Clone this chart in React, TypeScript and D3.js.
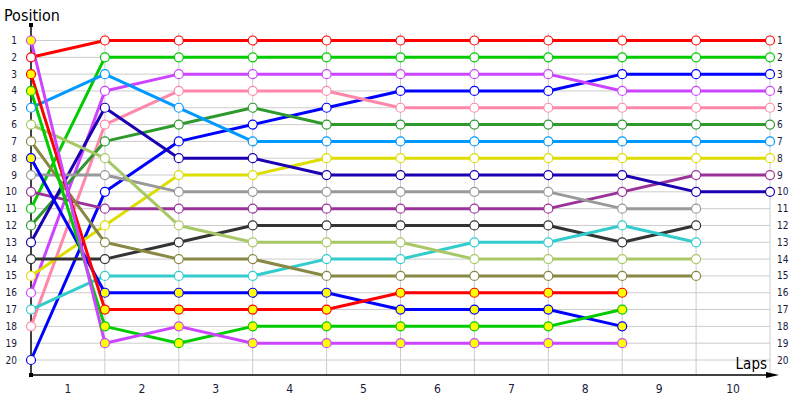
import React from "react";
import * as d3 from "d3";

const lapLabels = ["1", "2", "3", "4", "5", "6", "7", "8", "9", "10"];
const positionLabels = d3.range(1, 21).map(String);

// positions: index 0 = start grid, then after each lap
const redPos = [2, 1, 1, 1, 1, 1, 1, 1, 1, 1, 1];
const greenPos = [11, 2, 2, 2, 2, 2, 2, 2, 2, 2, 2];
const bluePos = [20, 10, 7, 6, 5, 4, 4, 4, 3, 3, 3];
const violetPos = [16, 4, 3, 3, 3, 3, 3, 3, 4, 4, 4];
const pinkPos = [18, 6, 4, 4, 4, 5, 5, 5, 5, 5, 5];
const darkGreenPos = [12, 7, 6, 5, 6, 6, 6, 6, 6, 6, 6];
const lightBluePos = [5, 3, 5, 7, 7, 7, 7, 7, 7, 7, 7];
const yellowPos = [15, 12, 9, 9, 8, 8, 8, 8, 8, 8, 8];
const purplePos = [10, 11, 11, 11, 11, 11, 11, 11, 10, 9, 9];
const navyPos = [13, 5, 8, 8, 9, 9, 9, 9, 9, 10, 10];
const grayPos = [9, 9, 10, 10, 10, 10, 10, 10, 11, 11];
const blackPos = [14, 14, 13, 12, 12, 12, 12, 12, 13, 12];
const cyanPos = [17, 15, 15, 15, 14, 14, 13, 13, 12, 13];
const lightGreenPos = [6, 8, 12, 13, 13, 13, 14, 14, 14, 14];
const olivePos = [7, 13, 14, 14, 15, 15, 15, 15, 15, 15];
const lappedBluePos = [8, 16, 16, 16, 16, 17, 17, 17, 18];
const lappedRedPos = [3, 17, 17, 17, 17, 16, 16, 16, 16];
const lappedGreenPos = [4, 18, 19, 18, 18, 18, 18, 18, 17];
const lappedVioletPos = [1, 19, 18, 19, 19, 19, 19, 19, 19];

const seriesPositions = [
  redPos, greenPos, bluePos, violetPos, pinkPos, darkGreenPos, lightBluePos,
  yellowPos, purplePos, navyPos, grayPos, blackPos, cyanPos, lightGreenPos,
  olivePos, lappedBluePos, lappedRedPos, lappedGreenPos, lappedVioletPos,
];
const seriesColors = [
  "#ff0000", "#00cc00", "#0000ff", "#cc44ff", "#ff88aa", "#2e9a2e", "#0099ff",
  "#dddd00", "#993399", "#1a00b0", "#999999", "#333333", "#33cccc", "#a8c868",
  "#888844", "#0000ff", "#ff0000", "#00cc00", "#cc44ff",
];
const seriesLapped = [
  false, false, false, false, false, false, false, false, false, false,
  false, false, false, false, false, true, true, true, true,
];

const X0 = 31, X1 = 770, Y0 = 40.5, Y1 = 360, AXIS_Y = 375;

export default function App() {
  const x = d3.scaleLinear().domain([0, 10]).range([X0, X1]);
  const y = d3.scaleLinear().domain([1, 20]).range([Y0, Y1]);
  const line = d3.line<number>().x((_, i) => x(i)).y((d) => y(d));
  const font = "Tahoma, 'DejaVu Sans Condensed', 'Liberation Sans', sans-serif";
  const tickColor = "#1a1a3a";

  return (
    <svg width={800} height={400} style={{ position: "absolute", left: 0, top: 0 }}>
      <rect width={800} height={400} fill="#ffffff" />
      {/* grid */}
      {positionLabels.map((_, i) => (
        <line key={"h" + i} x1={X0} x2={X1} y1={y(i + 1)} y2={y(i + 1)} stroke="#cccccc" strokeWidth={1} />
      ))}
      {d3.range(1, 11).map((i) => (
        <line key={"v" + i} x1={x(i)} x2={x(i)} y1={33} y2={AXIS_Y} stroke="#cccccc" strokeWidth={1} />
      ))}
      {/* axes */}
      <line x1={X0} x2={X0} y1={AXIS_Y} y2={25} stroke="#000" strokeWidth={1.5} />
      <rect x={X0 - 2} y={23} width={4} height={4} fill="#000" />
      <rect x={X0 - 2} y={AXIS_Y - 2} width={4} height={4} fill="#000" />
      <line x1={X0} x2={772} y1={AXIS_Y} y2={AXIS_Y} stroke="#000" strokeWidth={1.5} />
      <path d={`M766,${AXIS_Y - 3} L779,${AXIS_Y} L766,${AXIS_Y + 3} Z`} fill="#000" />
      {/* titles */}
      <text x={4} y={21} fontFamily={font} fontSize={16} fill="#000">Position</text>
      <text x={767} y={369} fontFamily={font} fontSize={15} textAnchor="end" fill="#000">Laps</text>
      {/* tick labels */}
      {positionLabels.map((p, i) => (
        <text key={"yl" + i} x={17} y={y(i + 1) + 3.5} fontFamily={font} fontSize={10} textAnchor="end" fill={tickColor}>{p}</text>
      ))}
      {positionLabels.map((p, i) => (
        <text key={"yr" + i} x={777} y={y(i + 1) + 3.5} fontFamily={font} fontSize={10} textAnchor="start" fill={tickColor}>{p}</text>
      ))}
      {lapLabels.map((l, i) => (
        <text key={"xl" + i} x={x(i + 0.5)} y={393} fontFamily={font} fontSize={12} textAnchor="middle" fill={tickColor}>{l}</text>
      ))}
      {/* lines */}
      {seriesPositions.map((s, k) => (
        <path key={"l" + k} d={line(s) || ""} fill="none" stroke={seriesColors[k]} strokeWidth={3} strokeLinejoin="round" />
      ))}
      {/* markers */}
      {seriesPositions.map((s, k) => (
        <g key={"m" + k}>
          {s.map((d, i) => (
            <circle key={i} cx={x(i)} cy={y(d)} r={4.5} fill={seriesLapped[k] ? "#ffff00" : "#ffffff"} stroke={seriesColors[k]} strokeWidth={1.2} />
          ))}
        </g>
      ))}
    </svg>
  );
}
